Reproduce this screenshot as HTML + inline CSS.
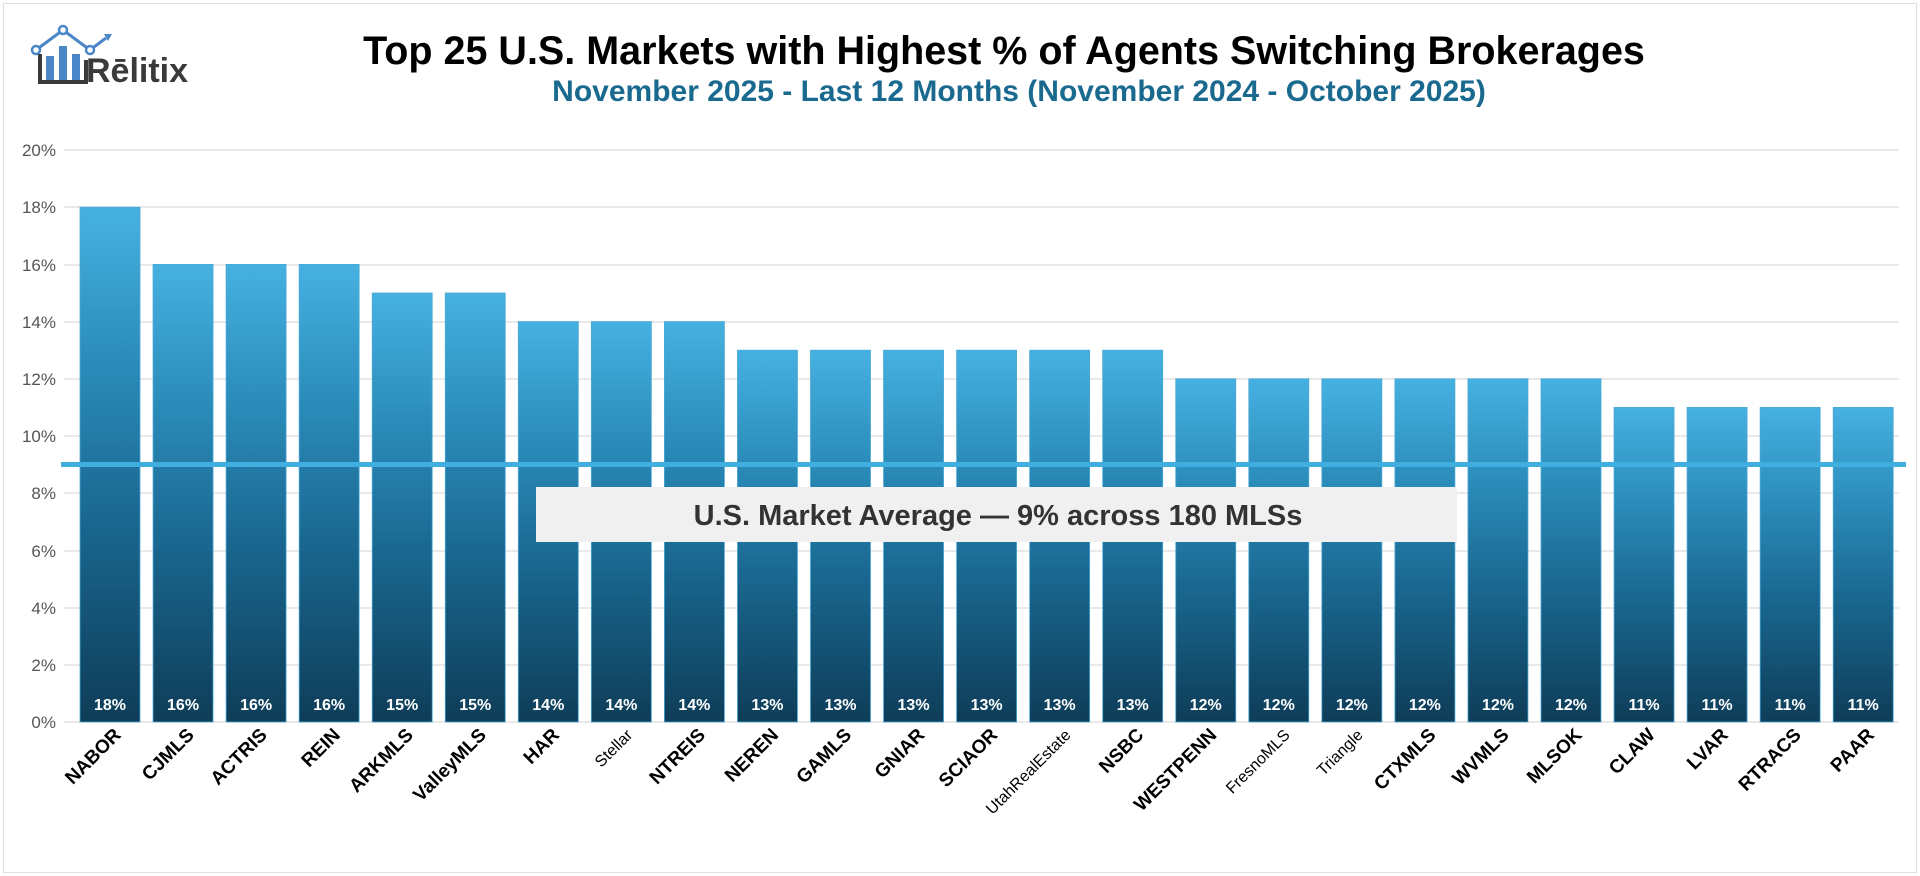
<!DOCTYPE html>
<html><head><meta charset="utf-8"><style>
html,body{margin:0;padding:0;background:#fff;}
svg{display:block;font-family:"Liberation Sans",sans-serif;}
</style></head><body>
<svg width="1920" height="876" viewBox="0 0 1920 876" xmlns="http://www.w3.org/2000/svg">
<defs>
<linearGradient id="g" x1="0" y1="0" x2="0" y2="1">
<stop offset="0" stop-color="#46b1e1"/>
<stop offset="0.3" stop-color="#2b8cba"/>
<stop offset="0.6" stop-color="#1a6891"/>
<stop offset="1" stop-color="#0e3d58"/>
</linearGradient>
</defs>
<rect x="3.5" y="3.5" width="1913" height="869" fill="#fff" stroke="#e0e0e0"/>
<g>
<polyline points="36,50 63,30 90,50 106,38" fill="none" stroke="#4a86c8" stroke-width="3"/>
<circle cx="36" cy="50" r="4" fill="#fff" stroke="#4a86c8" stroke-width="2.5"/>
<circle cx="63" cy="30" r="4" fill="#fff" stroke="#4a86c8" stroke-width="2.5"/>
<circle cx="90" cy="50" r="4" fill="#fff" stroke="#4a86c8" stroke-width="2.5"/>
<polygon points="104,34 112,34 108,41" fill="#4a86c8"/>
<rect x="46" y="56" width="8" height="25" fill="#4a86c8"/>
<rect x="59" y="46" width="8" height="35" fill="#4a86c8"/>
<rect x="72" y="54" width="8" height="27" fill="#4a86c8"/>
<polyline points="40,54 40,82 86,82 86,60" fill="none" stroke="#3a3a3a" stroke-width="4"/>
<text x="86" y="82" font-size="34" fill="#3a3a3a" font-weight="bold">Rēlitix</text>
</g>
<text x="1004" y="64" text-anchor="middle" font-size="39.5" font-weight="bold" fill="#000">Top 25 U.S. Markets with Highest % of Agents Switching Brokerages</text>
<text x="1019" y="101" text-anchor="middle" font-size="30" font-weight="bold" fill="#1a6a90">November 2025 - Last 12 Months (November 2024 - October 2025)</text>
<g stroke="#e2e2e2" stroke-width="1.5">
<line x1="64" x2="1899" y1="150" y2="150"/><line x1="64" x2="1899" y1="207" y2="207"/>
<line x1="64" x2="1899" y1="265" y2="265"/><line x1="64" x2="1899" y1="322" y2="322"/>
<line x1="64" x2="1899" y1="379" y2="379"/><line x1="64" x2="1899" y1="436" y2="436"/>
<line x1="64" x2="1899" y1="493" y2="493"/><line x1="64" x2="1899" y1="551" y2="551"/>
<line x1="64" x2="1899" y1="608" y2="608"/><line x1="64" x2="1899" y1="665" y2="665"/>
<line x1="64" x2="1899" y1="722" y2="722"/>
</g>
<g font-size="17" fill="#555" text-anchor="end">
<text x="56" y="156">20%</text><text x="56" y="213">18%</text><text x="56" y="271">16%</text>
<text x="56" y="328">14%</text><text x="56" y="385">12%</text><text x="56" y="442">10%</text>
<text x="56" y="499">8%</text><text x="56" y="557">6%</text><text x="56" y="614">4%</text>
<text x="56" y="671">2%</text><text x="56" y="728">0%</text>
</g>
<g fill="url(#g)" stroke="#4aa8d6" stroke-width="0.8">
<rect x="80" y="207.2" width="60" height="514.8"/>
<rect x="153.05" y="264.4" width="60" height="457.6"/>
<rect x="226.1" y="264.4" width="60" height="457.6"/>
<rect x="299.15" y="264.4" width="60" height="457.6"/>
<rect x="372.2" y="293" width="60" height="429"/>
<rect x="445.25" y="293" width="60" height="429"/>
<rect x="518.3" y="321.6" width="60" height="400.4"/>
<rect x="591.35" y="321.6" width="60" height="400.4"/>
<rect x="664.4" y="321.6" width="60" height="400.4"/>
<rect x="737.45" y="350.2" width="60" height="371.8"/>
<rect x="810.5" y="350.2" width="60" height="371.8"/>
<rect x="883.55" y="350.2" width="60" height="371.8"/>
<rect x="956.6" y="350.2" width="60" height="371.8"/>
<rect x="1029.65" y="350.2" width="60" height="371.8"/>
<rect x="1102.7" y="350.2" width="60" height="371.8"/>
<rect x="1175.75" y="378.8" width="60" height="343.2"/>
<rect x="1248.8" y="378.8" width="60" height="343.2"/>
<rect x="1321.85" y="378.8" width="60" height="343.2"/>
<rect x="1394.9" y="378.8" width="60" height="343.2"/>
<rect x="1467.95" y="378.8" width="60" height="343.2"/>
<rect x="1541" y="378.8" width="60" height="343.2"/>
<rect x="1614.05" y="407.4" width="60" height="314.6"/>
<rect x="1687.1" y="407.4" width="60" height="314.6"/>
<rect x="1760.15" y="407.4" width="60" height="314.6"/>
<rect x="1833.2" y="407.4" width="60" height="314.6"/>
</g>
<g font-size="16" font-weight="bold" fill="#fff" text-anchor="middle">
<text x="110" y="710">18%</text><text x="183.05" y="710">16%</text><text x="256.1" y="710">16%</text>
<text x="329.15" y="710">16%</text><text x="402.2" y="710">15%</text><text x="475.25" y="710">15%</text>
<text x="548.3" y="710">14%</text><text x="621.35" y="710">14%</text><text x="694.4" y="710">14%</text>
<text x="767.45" y="710">13%</text><text x="840.5" y="710">13%</text><text x="913.55" y="710">13%</text>
<text x="986.6" y="710">13%</text><text x="1059.65" y="710">13%</text><text x="1132.7" y="710">13%</text>
<text x="1205.75" y="710">12%</text><text x="1278.8" y="710">12%</text><text x="1351.85" y="710">12%</text>
<text x="1424.9" y="710">12%</text><text x="1497.95" y="710">12%</text><text x="1571" y="710">12%</text>
<text x="1644.05" y="710">11%</text><text x="1717.1" y="710">11%</text><text x="1790.15" y="710">11%</text>
<text x="1863.2" y="710">11%</text>
</g>
<g font-size="19" font-weight="bold" fill="#000" text-anchor="end">
<text transform="translate(122,736) rotate(-45)">NABOR</text>
<text transform="translate(195.05,736) rotate(-45)">CJMLS</text>
<text transform="translate(268.1,736) rotate(-45)">ACTRIS</text>
<text transform="translate(341.15,736) rotate(-45)">REIN</text>
<text transform="translate(414.2,736) rotate(-45)">ARKMLS</text>
<text transform="translate(487.25,736) rotate(-45)">ValleyMLS</text>
<text transform="translate(560.3,736) rotate(-45)">HAR</text>
<text transform="translate(633.35,736) rotate(-45)" font-size="16" font-weight="normal">Stellar</text>
<text transform="translate(706.4,736) rotate(-45)">NTREIS</text>
<text transform="translate(779.45,736) rotate(-45)">NEREN</text>
<text transform="translate(852.5,736) rotate(-45)">GAMLS</text>
<text transform="translate(925.55,736) rotate(-45)">GNIAR</text>
<text transform="translate(998.6,736) rotate(-45)">SCIAOR</text>
<text transform="translate(1071.65,736) rotate(-45)" font-size="16" font-weight="normal">UtahRealEstate</text>
<text transform="translate(1144.7,736) rotate(-45)">NSBC</text>
<text transform="translate(1217.75,736) rotate(-45)">WESTPENN</text>
<text transform="translate(1290.8,736) rotate(-45)" font-size="16" font-weight="normal">FresnoMLS</text>
<text transform="translate(1363.85,736) rotate(-45)" font-size="16" font-weight="normal">Triangle</text>
<text transform="translate(1436.9,736) rotate(-45)">CTXMLS</text>
<text transform="translate(1509.95,736) rotate(-45)">WVMLS</text>
<text transform="translate(1583,736) rotate(-45)">MLSOK</text>
<text transform="translate(1656.05,736) rotate(-45)">CLAW</text>
<text transform="translate(1729.1,736) rotate(-45)">LVAR</text>
<text transform="translate(1802.15,736) rotate(-45)">RTRACS</text>
<text transform="translate(1875.2,736) rotate(-45)">PAAR</text>
</g>
<rect x="536" y="487" width="921" height="55" fill="#f0f0f0"/>
<text x="998" y="525" text-anchor="middle" font-size="29" font-weight="bold" fill="#333">U.S. Market Average — 9% across 180 MLSs</text>
<rect x="61" y="462" width="1845" height="5" fill="#41aee0"/>
</svg>
</body></html>
